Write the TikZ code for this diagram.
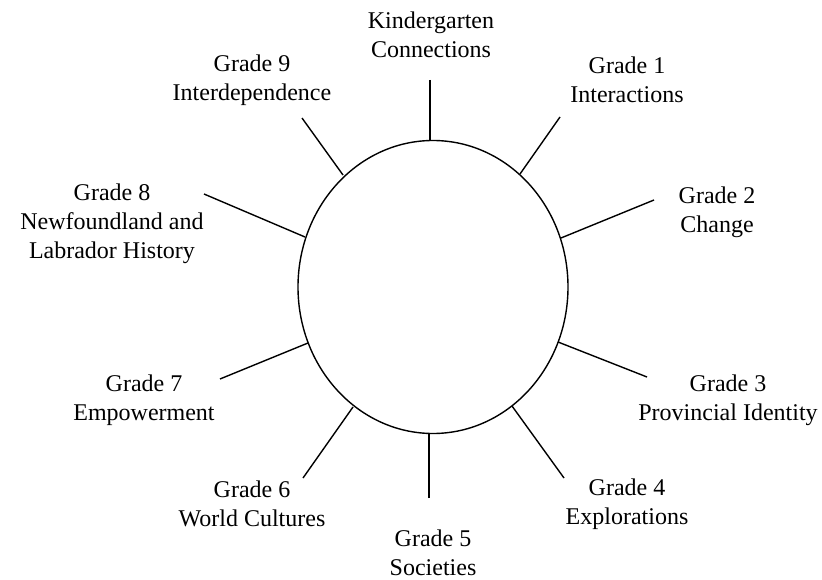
\documentclass[tikz,border=0pt]{standalone}
\usepackage{fontspec}
\setmainfont{Liberation Serif}
\usetikzlibrary{shapes.geometric}
\begin{document}
\begin{tikzpicture}[x=1pt,y=-1pt,
  lbl/.style={align=center,inner sep=0pt,font=\fontsize{24}{29}\selectfont},
  spoke/.style={line width=1.4pt,black},
  hub/.style={draw,line width=1.4pt,ellipse,minimum width=270pt,minimum height=293pt,inner sep=0pt}]
\useasboundingbox[fill=white] (0,0) rectangle (822,580);
\node[hub] (c) at (433,287) {};
% labels
\node[lbl] (k)  at (431,35)  {Kindergarten\\Connections};
\node[lbl] (g1) at (627,80)  {Grade 1\\Interactions};
\node[lbl] (g2) at (717,212) {Grade 2\\Change};
\node[lbl] (g3) at (728,400) {Grade 3\\Provincial Identity};
\node[lbl] (g4) at (627,504) {Grade 4\\Explorations};
\node[lbl] (g5) at (433,553) {Grade 5\\Societies};
\node[lbl] (g6) at (252,504) {Grade 6\\World Cultures};
\node[lbl] (g7) at (144,400) {Grade 7\\Empowerment};
\node[lbl] (g8) at (112,224) {Grade 8\\Newfoundland and\\Labrador History};
\node[lbl] (g9) at (252,80)  {Grade 9\\Interdependence};
% spoke ends
\coordinate (ok)  at (430,80);  \coordinate (ik)  at (430,141);
\coordinate (o1)  at (560,117); \coordinate (i1)  at (520,174);
\coordinate (o2)  at (654,200); \coordinate (i2)  at (561,238);
\coordinate (o3)  at (647,377); \coordinate (i3)  at (558,342);
\coordinate (o4)  at (564,478); \coordinate (i4)  at (512,406);
\coordinate (o5)  at (429,498); \coordinate (i5)  at (429,433);
\coordinate (o6)  at (303,478); \coordinate (i6)  at (353,407);
\coordinate (o7)  at (220,379); \coordinate (i7)  at (308,343);
\coordinate (o8)  at (204,194); \coordinate (i8)  at (305,237);
\coordinate (o9)  at (302,118); \coordinate (i9)  at (343,175);
\foreach \s in {k,1,2,3,4,5,6,7,8,9}{\draw[spoke] (o\s) -- (i\s);}
\end{tikzpicture}
\end{document}
